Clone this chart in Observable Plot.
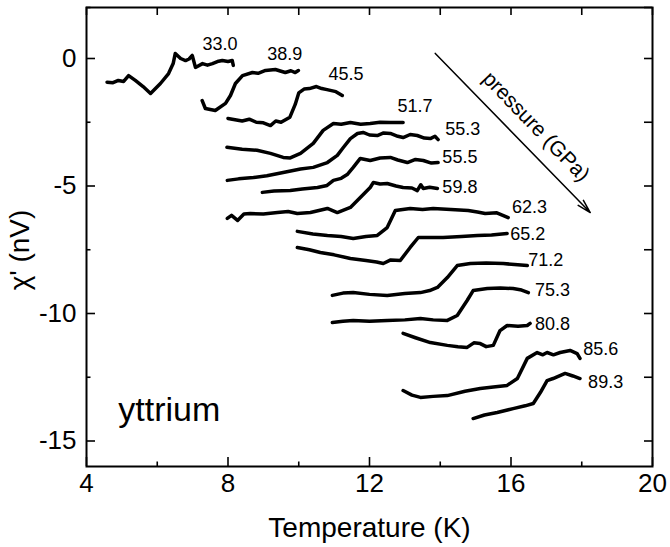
<!DOCTYPE html>
<html>
<head>
<meta charset="utf-8">
<script src="https://cdn.jsdelivr.net/npm/d3@7"></script>
<script src="https://cdn.jsdelivr.net/npm/@observablehq/plot@0.6"></script>
<style>
  html, body { margin: 0; padding: 0; background: #fff; }
  #chart { width: 670px; height: 547px; }
</style>
</head>
<body>
<div id="chart"></div>
<script>
// Pressures (GPa) labelling each curve
const pressures = ["33.0","38.9","45.5","51.7","55.3","55.5","59.8","62.3","65.2","71.2","75.3","80.8","85.6","89.3"];

// Curves: [Temperature (K), chi' (nV)]
const c33_0 = [[4.58,-0.93],[4.75,-0.95],[4.90,-0.86],[5.05,-0.90],[5.19,-0.67],[5.38,-0.86],[5.60,-1.10],[5.81,-1.37],[6.09,-0.98],[6.32,-0.59],[6.45,-0.20],[6.51,0.20],[6.66,0.0],[6.80,-0.08],[6.90,-0.02],[6.99,0.12],[7.08,-0.35],[7.28,-0.20],[7.42,-0.26],[7.56,-0.20],[7.70,-0.12],[7.84,-0.08],[8.00,-0.12],[8.12,-0.08],[8.15,-0.27]];
const c38_9 = [[7.27,-1.65],[7.36,-1.96],[7.50,-2.00],[7.64,-2.04],[7.93,-1.76],[8.07,-1.45],[8.21,-0.98],[8.41,-0.67],[8.69,-0.55],[8.85,-0.58],[9.06,-0.47],[9.34,-0.43],[9.50,-0.50],[9.62,-0.55],[9.78,-0.48],[9.90,-0.55],[9.99,-0.47]];
const c45_5 = [[8.0,-2.35],[8.2,-2.40],[8.4,-2.45],[8.6,-2.38],[8.8,-2.5],[9.0,-2.52],[9.2,-2.63],[9.35,-2.45],[9.5,-2.5],[9.75,-2.3],[9.9,-1.8],[10.0,-1.35],[10.15,-1.2],[10.3,-1.18],[10.5,-1.1],[10.65,-1.18],[10.8,-1.22],[11.05,-1.3],[11.23,-1.45]];
const c51_7 = [[7.97,-3.48],[8.40,-3.56],[8.82,-3.60],[9.20,-3.72],[9.56,-3.88],[9.76,-3.90],[10.05,-3.72],[10.41,-3.33],[10.69,-2.82],[10.98,-2.55],[11.20,-2.58],[11.46,-2.51],[11.75,-2.58],[12.02,-2.55],[12.30,-2.50],[12.59,-2.51],[12.95,-2.51]];
const c55_3 = [[7.98,-4.78],[8.30,-4.72],[8.72,-4.67],[9.10,-4.60],[9.56,-4.47],[10.05,-4.33],[10.41,-4.27],[10.81,-4.08],[11.09,-3.80],[11.26,-3.49],[11.46,-3.14],[11.66,-2.94],[11.82,-2.90],[12.00,-3.00],[12.22,-3.02],[12.40,-2.92],[12.59,-2.94],[12.80,-3.05],[12.95,-3.10],[13.15,-2.98],[13.35,-3.02],[13.55,-3.12],[13.72,-3.14],[13.85,-3.05],[13.94,-3.18]];
const c55_5 = [[8.97,-5.25],[9.30,-5.20],[9.76,-5.18],[10.10,-5.12],[10.53,-5.06],[10.80,-4.98],[10.98,-4.78],[11.20,-4.70],[11.37,-4.55],[11.54,-4.27],[11.74,-3.92],[12.02,-4.00],[12.30,-3.90],[12.59,-3.88],[12.80,-3.98],[13.07,-4.08],[13.30,-3.96],[13.52,-4.00],[13.75,-4.10],[13.94,-4.08]];
const c59_8 = [[7.98,-6.27],[8.10,-6.15],[8.27,-6.35],[8.45,-6.10],[8.63,-6.08],[9.00,-6.10],[9.40,-6.04],[9.70,-6.00],[9.96,-6.08],[10.33,-6.04],[10.60,-5.95],[10.81,-5.88],[11.09,-6.04],[11.46,-5.84],[11.74,-5.45],[12.02,-5.06],[12.11,-4.86],[12.30,-4.92],[12.50,-4.90],[12.75,-5.00],[12.95,-5.06],[13.20,-5.08],[13.35,-5.18],[13.45,-4.95],[13.52,-5.10],[13.70,-5.05],[13.92,-5.10]];
const c62_3 = [[9.96,-6.78],[10.40,-6.88],[10.81,-6.94],[11.20,-6.98],[11.54,-7.06],[11.90,-6.98],[12.22,-6.94],[12.50,-6.63],[12.73,-5.96],[13.15,-5.88],[13.50,-5.92],[13.80,-5.88],[14.30,-5.92],[14.79,-5.96],[15.05,-6.02],[15.27,-6.08],[15.60,-6.05],[15.92,-6.24]];
const c65_2 = [[9.96,-7.41],[10.30,-7.50],[10.61,-7.61],[11.00,-7.70],[11.46,-7.84],[11.90,-7.92],[12.20,-7.98],[12.39,-8.04],[12.60,-7.90],[12.87,-7.92],[13.15,-7.41],[13.38,-7.02],[13.70,-7.02],[14.08,-7.02],[14.60,-6.98],[15.05,-6.94],[15.45,-6.92],[15.89,-6.86]];
const c71_2 = [[10.95,-9.29],[11.25,-9.20],[11.54,-9.18],[12.00,-9.25],[12.50,-9.29],[13.00,-9.22],[13.44,-9.18],[13.70,-9.10],[13.92,-8.98],[14.20,-8.59],[14.48,-8.12],[14.85,-8.04],[15.30,-8.02],[15.78,-8.04],[16.10,-8.08],[16.46,-8.12]];
const c75_3 = [[10.95,-10.35],[11.25,-10.30],[11.54,-10.27],[12.00,-10.30],[12.50,-10.27],[13.00,-10.25],[13.44,-10.20],[13.80,-10.25],[14.20,-10.27],[14.48,-10.08],[14.76,-9.49],[14.93,-9.10],[15.33,-9.02],[15.70,-9.00],[16.06,-9.02],[16.30,-9.08],[16.49,-9.18]];
const c80_8 = [[12.95,-10.78],[13.30,-10.95],[13.72,-11.14],[14.20,-11.25],[14.50,-11.30],[14.76,-11.33],[14.95,-11.15],[15.13,-11.18],[15.30,-11.30],[15.50,-11.25],[15.69,-10.67],[15.89,-10.47],[16.20,-10.50],[16.46,-10.47],[16.54,-10.39]];
const c85_6 = [[12.95,-13.02],[13.20,-13.20],[13.44,-13.29],[13.80,-13.25],[14.20,-13.22],[14.70,-13.05],[15.13,-12.94],[15.50,-12.88],[15.89,-12.82],[16.18,-12.55],[16.46,-11.76],[16.74,-11.53],[16.90,-11.62],[17.02,-11.53],[17.20,-11.62],[17.39,-11.53],[17.67,-11.45],[17.87,-11.57],[17.95,-11.76]];
const c89_3 = [[14.93,-14.12],[15.25,-13.98],[15.61,-13.88],[16.06,-13.73],[16.40,-13.62],[16.63,-13.53],[16.83,-13.10],[17.02,-12.63],[17.19,-12.55],[17.53,-12.35],[17.75,-12.45],[17.95,-12.55]];

const curves = [c33_0,c38_9,c45_5,c51_7,c55_3,c55_5,c59_8,c62_3,c65_2,c71_2,c75_3,c80_8,c85_6,c89_3];

// Label anchor positions (left edge, vertical centre)
const labelT = [7.28, 9.11, 10.84, 12.79, 14.14, 14.06, 14.06, 16.03, 15.98, 16.49, 16.68, 16.68, 18.04, 18.18];
const labelV = [0.57, 0.16, -0.63, -1.86, -2.78, -3.86, -5.04, -5.82, -6.88, -7.92, -9.10, -10.41, -11.41, -12.69];

// Axis ticks
const xMajor = [4, 8, 12, 16, 20];
const xMinor = [6, 10, 14, 18];
const yMajor = [0, -5, -10, -15];
const yMinor = [2, -2.5, -7.5, -12.5];

// Annotations
const arrowFrom = [13.86, 0.20];
const arrowTo = [18.24, -6.04];
const pressureText = {T: 16.71, V: -2.67, text: "pressure (GPa)"};
const sampleText = {T: 4.9, V: -13.78, text: "yttrium"};

const table = [];
curves.forEach((c, i) => c.forEach(([T, V]) => table.push({T, V, p: pressures[i]})));
const labels = pressures.map((p, i) => ({p, T: labelT[i], V: labelV[i]}));

const W = 670, H = 547;
const mL = 86, mR = 18, mT = 7, mB = 81;
const innerW = W - mL - mR, innerH = H - mT - mB;
const font = "'Liberation Sans', Arial, Helvetica, sans-serif";

const chart = Plot.plot({
  width: W, height: H,
  marginLeft: mL, marginRight: mR, marginTop: mT, marginBottom: mB,
  style: {fontFamily: font, background: "white", color: "black", overflow: "visible"},
  x: {domain: [4, 20]},
  y: {domain: [-16, 2]},
  marks: [
    Plot.frame({stroke: "black", strokeWidth: 2}),
    Plot.tickX(xMajor, {x: d => d, insetTop: innerH - 9, strokeWidth: 1.6}),
    Plot.tickX(xMinor, {x: d => d, insetTop: innerH - 4.5, strokeWidth: 1.6}),
    Plot.tickY(yMajor, {y: d => d, insetRight: innerW - 9, strokeWidth: 1.6}),
    Plot.tickY(yMinor, {y: d => d, insetRight: innerW - 4.5, strokeWidth: 1.6}),
    Plot.tickX(xMajor.concat(xMinor), {x: d => d, insetBottom: innerH - 8, strokeWidth: 1.6}),
    Plot.tickY(yMajor.concat(yMinor), {y: d => d, insetLeft: innerW - 8, strokeWidth: 1.6}),
    Plot.axisX({ticks: xMajor, tickSize: 0, tickPadding: 7, fontSize: 26, label: null, tickFormat: d => String(d)}),
    Plot.axisY({ticks: yMajor, tickSize: 0, tickPadding: 10, fontSize: 26, label: null, tickFormat: d => String(d)}),
    Plot.text(["Temperature (K)"], {frameAnchor: "bottom", dy: 62, fontSize: 28, lineAnchor: "middle", textAnchor: "middle", text: d => d}),
    Plot.text(["χ' (nV)"], {frameAnchor: "left", dx: -66, dy: 13, rotate: -90, fontSize: 28, lineAnchor: "middle", textAnchor: "middle", text: d => d}),
    Plot.line(table, {x: "T", y: "V", z: "p", stroke: "black", strokeWidth: 3.5, strokeLinejoin: "round", strokeLinecap: "round"}),
    Plot.text(labels, {x: "T", y: "V", text: "p", textAnchor: "start", lineAnchor: "middle", fontSize: 18}),
    Plot.arrow([0], {x1: () => arrowFrom[0], y1: () => arrowFrom[1], x2: () => arrowTo[0], y2: () => arrowTo[1], stroke: "black", strokeWidth: 1.5, headLength: 14, headAngle: 30}),
    Plot.text([pressureText], {x: "T", y: "V", text: "text", rotate: 46, fontSize: 21, textAnchor: "middle", lineAnchor: "middle"}),
    Plot.text([sampleText], {x: "T", y: "V", text: "text", textAnchor: "start", lineAnchor: "middle", fontSize: 34})
  ]
});
document.getElementById("chart").appendChild(chart);
</script>
</body>
</html>
